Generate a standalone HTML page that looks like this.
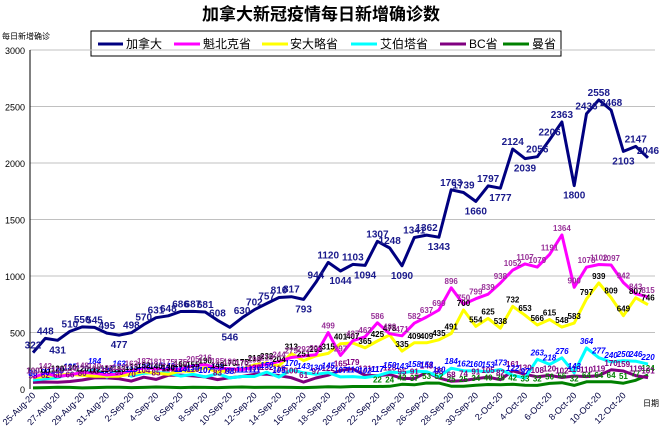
<!DOCTYPE html>
<html><head><meta charset="utf-8"><style>
html,body{margin:0;padding:0;background:#fff;width:668px;height:430px;overflow:hidden}
svg{display:block;font-family:"Liberation Sans","Noto Sans CJK SC",sans-serif}
</style></head><body>
<svg id="s" width="668" height="430" viewBox="0 0 668 430" xmlns="http://www.w3.org/2000/svg">
<text x="321" y="20" text-anchor="middle" font-size="17" font-weight="bold" fill="#000">加拿大新冠疫情每日新增确诊数</text>
<rect x="91" y="31" width="470" height="25" fill="#fff" stroke="#000" stroke-width="1"/>
<g font-size="12" fill="#000">
<line x1="98" y1="44" x2="123" y2="44" stroke="#000080" stroke-width="3"/><text x="126" y="48">加拿大</text>
<line x1="174" y1="44" x2="200" y2="44" stroke="#ff00ff" stroke-width="3"/><text x="203" y="48">魁北克省</text>
<line x1="262" y1="44" x2="288" y2="44" stroke="#ffff00" stroke-width="3"/><text x="290" y="48">安大略省</text>
<line x1="351" y1="44" x2="377" y2="44" stroke="#00ffff" stroke-width="3"/><text x="380" y="48">艾伯塔省</text>
<line x1="440" y1="44" x2="466" y2="44" stroke="#800080" stroke-width="3"/><text x="469" y="48">BC省</text>
<line x1="503" y1="44" x2="529" y2="44" stroke="#008000" stroke-width="3"/><text x="532" y="48">曼省</text>
</g>
<text x="2" y="39" font-size="8" fill="#000">每日新增确诊</text>
<text x="643" y="406" font-size="8" fill="#000">日期</text>
<g id="g"></g>
</svg>
<script>
var s=document.getElementById('g'),NS='http://www.w3.org/2000/svg';
function el(t,a,txt){var e=document.createElementNS(NS,t);for(var k in a)e.setAttribute(k,a[k]);if(txt!=null)e.textContent=txt;s.appendChild(e);return e;}
function X(i){return 33+i*12.3;}function Y(v){return 389-v*0.113;}
for(var v=0;v<=3000;v+=500){if(v>0)el('line',{x1:30,x2:655,y1:Y(v),y2:Y(v),stroke:'#c0c0c0','stroke-width':1});
el('text',{x:25,y:Y(v)+4,'font-size':9,'text-anchor':'end',fill:'#000'},v);}
el('line',{x1:30,x2:30,y1:Y(3000),y2:389,stroke:'#000','stroke-width':1});
var D={
ca:[322,448,431,510,550,545,495,477,498,570,631,648,686,687,681,608,546,630,702,757,810,817,793,944,1120,1044,1103,1094,1307,1248,1090,1341,1362,1343,1763,1739,1660,1797,1777,2124,2039,2056,2206,2363,1800,2436,2558,2468,2103,2147,2046],
qc:[100,142,111,124,148,140,125,133,163,187,181,175,175,205,216,185,180,170,198,219,244,279,292,303,499,297,427,462,586,489,471,582,637,699,896,750,799,839,938,1052,1107,1079,1191,1364,900,1078,1102,1097,942,843,815],
on:[100,111,120,130,120,112,114,113,133,152,140,130,160,155,190,149,170,175,213,232,204,313,251,293,315,401,407,365,425,478,335,409,409,435,491,700,554,625,538,732,653,566,615,548,583,797,939,809,649,807,746],
ab:[80,90,100,135,120,184,106,163,113,140,145,140,114,130,107,135,98,111,111,150,105,170,143,130,145,107,110,102,117,150,143,158,153,110,184,162,160,153,173,122,97,263,218,276,143,364,277,240,250,246,220],
bc:[58,62,60,66,80,98,98,90,70,104,85,121,123,116,107,83,100,111,130,132,119,100,61,97,122,165,179,121,117,128,95,91,148,98,68,74,91,105,82,161,130,108,120,102,115,110,119,170,159,119,101],
mb:[10,12,15,14,10,12,16,15,12,14,18,15,12,16,14,12,15,18,14,16,15,14,12,16,20,18,22,22,22,24,42,37,53,52,25,25,34,40,38,42,33,32,50,56,32,64,64,64,51,77,124]};
var S=[['mb','#008000','#008000',''],['bc','#800080','#800080',''],['ab','#00ffff','#0000ff','italic'],['on','#ffff00','#000',''],['qc','#ff00ff','#993399',''],['ca','#000080','#1a1a8c','']];
S.forEach(function(q){var d=D[q[0]],p='';d.forEach(function(v,i){p+=(i?'L':'M')+X(i).toFixed(1)+' '+Y(v).toFixed(1);});
el('path',{d:p,fill:'none',stroke:q[1],'stroke-width':3,'stroke-linejoin':'round'});});
S.forEach(function(q){var d=D[q[0]];d.forEach(function(v,i){if(q[0]=='mb'&&i<28)return;var up=(q[0]=='ca'&&i>0&&i<50&&v<d[i-1]&&v<d[i+1]);
el('text',{x:X(i),y:up?Y(v)+13:Y(v)-4,'font-size':q[0]=='ca'?10:8,'font-weight':'bold','font-style':q[3]||'normal','text-anchor':'middle',fill:q[2]},v);});});
var m=['Aug','Sep','Oct'];
for(var i=0;i<=48;i+=2){var dt=new Date(2020,7,25+i);var t=dt.getDate()+'-'+m[dt.getMonth()-7]+'-20';
var x=X(i)+3,y=396;el('text',{x:x,y:y,'font-size':9,fill:'#000040','text-anchor':'end',transform:'rotate(-45 '+x+' '+y+')'},t);}
</script>
</body></html>
